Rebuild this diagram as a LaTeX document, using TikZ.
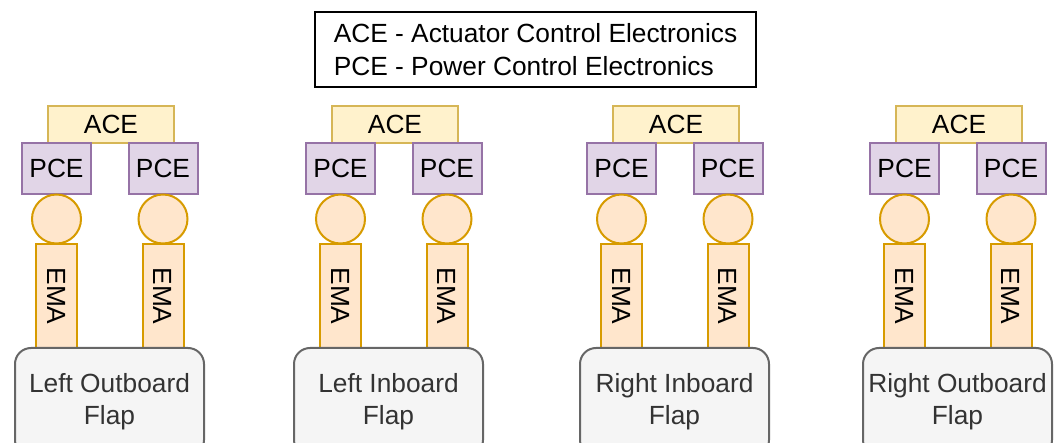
\documentclass[tikz,border=0pt]{standalone}
\usepackage{fontspec}
\setmainfont{Liberation Sans}
\usepackage{tikz}
\usetikzlibrary{calc}
\usetikzlibrary{shapes,positioning}
\usepackage{xcolor}
\definecolor{acefill}{HTML}{FFF2CC}
\definecolor{acedraw}{HTML}{D6B656}
\definecolor{pcefill}{HTML}{E1D5E7}
\definecolor{pcedraw}{HTML}{9673A6}
\definecolor{emafill}{HTML}{FFE6CC}
\definecolor{emadraw}{HTML}{D79B00}
\definecolor{flapfill}{HTML}{F5F5F5}
\definecolor{flapdraw}{HTML}{666666}
\definecolor{flaptext}{HTML}{333333}

\tikzset{
  box/.style={line width=2pt,inner sep=0pt,font=\fontsize{26.3}{32}\selectfont},
  acebox/.style={box,draw=acedraw,fill=acefill,minimum width=126pt,minimum height=37pt},
  pcebox/.style={box,draw=pcedraw,fill=pcefill,minimum width=69pt,minimum height=51pt},
  motor/.style={box,circle,draw=emadraw,fill=emafill,minimum size=49pt},
  emabox/.style={box,draw=emadraw,fill=emafill,minimum width=41pt,minimum height=104pt},
  flapbox/.style={box,draw=flapdraw,fill=flapfill,text=flaptext,rounded corners=16pt,
    minimum width=189pt,minimum height=108pt,align=center},
  legend/.style={box,draw=black,fill=white,minimum width=441pt,minimum height=75pt,
    align=left,font=\fontsize{26.3}{33}\selectfont}
}

\begin{document}
\begin{tikzpicture}[x=1pt,y=-1pt]
  \useasboundingbox (0,0) rectangle (1057,443);
  \node[legend] (key) at (535.5,49.5) {ACE - Actuator Control Electronics\\PCE - Power Control Electronics};
  % one flap: ACE, two PCE/motor/EMA columns, flap
  \foreach \a/\f/\name [count=\i] in {48/-33/{Left Outboard},332/-38/{Left Inboard},
      613/-33/{Right Inboard},896/-33/{Right Outboard}} {
    \node[acebox] (ace\i) at ({\a+63},124.5) {ACE};
    \node[pcebox] (pcel\i) at ({\a+8.5},168.5) {PCE};
    \node[pcebox] (pcer\i) at ({\a+115},168.5) {PCE};
    \node[motor] (motl\i) at ({\a+8.5},219) {};
    \node[motor] (motr\i) at ({\a+115},219) {};
    \node[emabox] (emal\i) at ({\a+8.5},296) {\rotatebox{-90}{EMA}};
    \node[emabox] (emar\i) at ({\a+115},296) {\rotatebox{-90}{EMA}};
    \node[flapbox] (flap\i) at ({\a+\f+94.5},402) {\name\\Flap};
  }
\end{tikzpicture}
\end{document}
